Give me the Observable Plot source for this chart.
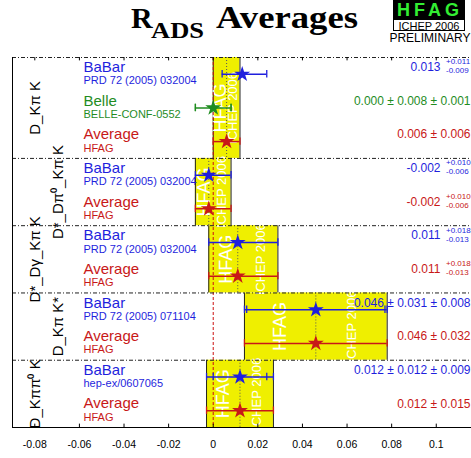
<!DOCTYPE html>
<html><head><meta charset="utf-8">
<script src="https://cdn.jsdelivr.net/npm/d3@7"></script>
<script src="https://cdn.jsdelivr.net/npm/@observablehq/plot@0.6"></script>
<style>
body{margin:0;background:#fff;overflow:hidden;width:471px;height:458px;}
#head{display:block;}
#chart svg{display:block;}
</style></head><body>
<svg id="head" width="471" height="50">
  <text x="131" y="27.5" font-family="Liberation Serif, Times New Roman, serif" font-weight="bold" font-size="30" fill="#000">R</text>
  <text x="151" y="37.5" font-family="Liberation Serif, Times New Roman, serif" font-weight="bold" font-size="24" textLength="53" lengthAdjust="spacingAndGlyphs" fill="#000">ADS</text>
  <text x="216" y="27.5" font-family="Liberation Serif, Times New Roman, serif" font-weight="bold" font-size="32" textLength="142" lengthAdjust="spacingAndGlyphs" fill="#000">Averages</text>
  <rect x="393" y="0" width="72" height="19" fill="#000"/>
  <text x="430" y="15.5" text-anchor="middle" font-family="Liberation Sans, Arial, sans-serif" font-weight="bold" font-size="18" letter-spacing="4" fill="#33ee33">HFAG</text>
  <rect x="393.5" y="19.5" width="71" height="11" fill="#fff" stroke="#000"/>
  <text x="429" y="29.5" text-anchor="middle" font-family="Liberation Sans, Arial, sans-serif" font-size="11" fill="#000">ICHEP 2006</text>
  <text x="430" y="42" text-anchor="middle" font-family="Liberation Sans, Arial, sans-serif" font-size="12" fill="#000">PRELIMINARY</text>
</svg>
<div id="chart"></div>
<script>
// ---- data ----
const categories = ["D_Kπ K", "D*_Dπ⁰_Kπ K", "D*_Dγ_Kπ K", "D_Kπ K*", "D_Kππ⁰ K"];
const rowSection = [0, 0, 0, 1, 1, 2, 2, 3, 3, 4, 4];
const experiments = ["BaBar", "Belle", "Average", "BaBar", "Average", "BaBar", "Average", "BaBar", "Average", "BaBar", "Average"];
const references = ["PRD 72 (2005) 032004", "BELLE-CONF-0552", "HFAG", "PRD 72 (2005) 032004", "HFAG", "PRD 72 (2005) 032004", "HFAG", "PRD 72 (2005) 071104", "HFAG", "hep-ex/0607065", "HFAG"];
const values = [0.013, 0.000, 0.006, -0.002, -0.002, 0.011, 0.011, 0.046, 0.046, 0.012, 0.012];
const errPlus = [0.011, 0.008, 0.006, 0.010, 0.010, 0.018, 0.018, 0.032, 0.032, 0.015, 0.015];
const errMinus = [0.009, 0.008, 0.006, 0.006, 0.006, 0.013, 0.013, 0.032, 0.032, 0.015, 0.015];
const statErr = [null, 0.008, null, null, null, null, null, 0.031, null, 0.012, null];
const valueLabels = ["0.013", "0.000 ± 0.008 ± 0.001", "0.006 ± 0.006", "-0.002", "-0.002", "0.011", "0.011", "0.046 ± 0.031 ± 0.008", "0.046 ± 0.032", "0.012 ± 0.012 ± 0.009", "0.012 ± 0.015"];
const supLabels = ["+0.011", null, null, "+0.010", "+0.010", "+0.018", "+0.018", null, null, null, null];
const subLabels = ["-0.009", null, null, "-0.006", "-0.006", "-0.013", "-0.013", null, null, null, null];
const xTicks = [-0.08, -0.06, -0.04, -0.02, 0, 0.02, 0.04, 0.06, 0.08, 0.1];
const xDomain = [-0.09, 0.1158];
const expNames = ["BaBar", "Belle", "Average"];
const expColors = ["#1f1fdd", "#1f8c1f", "#c81818"];

// ---- derived tables ----
const rows = values.map((v, i) => ({
  i, pos: i + 0.5, sec: rowSection[i], exp: experiments[i], ref: references[i],
  v, lo: v - errMinus[i], hi: v + errPlus[i], stat: statErr[i],
  label: valueLabels[i], sup: supLabels[i], sub: subLabels[i]
}));
const sections = categories.map((c, s) => {
  const rs = rows.filter(r => r.sec === s);
  const avg = rs.find(r => r.exp === "Average");
  const start = rs[0].i, end = rs[rs.length - 1].i + 1;
  return {s, cat: c, start, end, mid: (start + end) / 2, avg: avg.v, x1: avg.lo, x2: avg.hi};
});
const boundaries = sections.map(d => d.start);
const caps = rows.flatMap(r => [{x: r.lo, y: r.pos, exp: r.exp}, {x: r.hi, y: r.pos, exp: r.exp}]);
const statTicks = rows.filter(r => r.stat != null).flatMap(r => [{x: r.v - r.stat, y: r.pos, exp: r.exp}, {x: r.v + r.stat, y: r.pos, exp: r.exp}]);
const boxEdges = sections.flatMap(d => [{x: d.x1, y1: d.start, y2: d.end}, {x: d.x2, y1: d.start, y2: d.end}]);
const nRows = rows.length;
const capH = 0.11;

const fontFam = "Liberation Sans, Arial, Helvetica, sans-serif";

const plot = Plot.plot({
  width: 471, height: 408,
  marginLeft: 12, marginRight: 0, marginTop: 7, marginBottom: 31,
  style: {fontFamily: fontFam, background: "white"},
  x: {domain: xDomain},
  y: {domain: [nRows, 0], axis: null},
  color: {domain: expNames, range: expColors},
  marks: [
    Plot.rect(sections, {x1: "x1", x2: "x2", y1: "start", y2: "end", fill: "#efef00"}),
    Plot.ruleX(boxEdges, {x: "x", y1: "y1", y2: "y2", stroke: "#222", strokeWidth: 1}),
    Plot.ruleX(sections, {x: "avg", y1: "start", y2: "end", stroke: "#555", strokeDasharray: "1,2", strokeWidth: 1}),
    Plot.text(sections, {x: d => d.x1 + 0.25 * (d.x2 - d.x1), y: "mid", text: () => "HFAG", rotate: -90, fill: "white", fontSize: 18, textAnchor: "middle", lineAnchor: "middle"}),
    Plot.text(sections, {x: d => d.x1 + 0.75 * (d.x2 - d.x1), y: "mid", text: () => "ICHEP 2006", rotate: -90, fill: "white", fontSize: 13, textAnchor: "middle", lineAnchor: "middle"}),
    Plot.ruleX([0], {y1: 0, y2: nRows, stroke: "#cc1111", strokeDasharray: "3,2", strokeWidth: 1}),
    Plot.ruleY(boundaries, {stroke: "#222", strokeDasharray: "4,2,1,2", strokeWidth: 1}),
    Plot.ruleY([nRows], {stroke: "#000", strokeWidth: 1}),
    Plot.ruleX([xDomain[0]], {y1: 0, y2: nRows, stroke: "#000", strokeWidth: 1}),
    Plot.ruleX(xTicks, {x: d => d, y1: nRows, y2: nRows - 0.1, stroke: "#000"}),
    Plot.ruleX(xTicks, {x: d => d, y1: 0, y2: 0.1, stroke: "#000"}),
    Plot.axisX({ticks: xTicks, tickFormat: d => String(+d.toFixed(2)), tickSize: 0, tickPadding: 13, fontSize: 10.5, label: null}),
    // error bars
    Plot.ruleY(rows, {y: "pos", x1: "lo", x2: "hi", stroke: "exp", strokeWidth: 1.5}),
    Plot.ruleX(caps, {x: "x", y1: d => d.y - capH, y2: d => d.y + capH, stroke: "exp", strokeWidth: 1.3}),
    Plot.ruleX(statTicks, {x: "x", y1: d => d.y - capH, y2: d => d.y + capH, stroke: "exp", strokeWidth: 1.3}),
    Plot.dot(rows, {x: "v", y: "pos", symbol: "star", fill: "exp", r: 5, stroke: null}),
    // left labels
    Plot.text(rows, {y: "pos", text: "exp", frameAnchor: "left", dx: 71, dy: -7, textAnchor: "start", fontSize: 15, fill: "exp"}),
    Plot.text(rows, {y: "pos", text: "ref", frameAnchor: "left", dx: 71, dy: 6.5, textAnchor: "start", fontSize: 11, fill: "exp"}),
    Plot.text(sections.filter(d => d.s % 2 === 0), {y: "mid", text: "cat", frameAnchor: "left", dx: 23, rotate: -90, fontSize: 15, fill: "#000", textAnchor: "middle", lineAnchor: "middle"}),
    Plot.text(sections.filter(d => d.s % 2 === 1), {y: "mid", text: "cat", frameAnchor: "left", dx: 46, rotate: -90, fontSize: 15, fill: "#000", textAnchor: "middle", lineAnchor: "middle"}),
    // right value labels
    Plot.text(rows.filter(r => r.sup == null), {y: "pos", text: "label", frameAnchor: "right", dx: -1, dy: -7, textAnchor: "end", fontSize: 12, fill: "exp"}),
    Plot.text(rows.filter(r => r.sup != null), {y: "pos", text: "label", frameAnchor: "right", dx: -31, dy: -7, textAnchor: "end", fontSize: 12, fill: "exp"}),
    Plot.text(rows.filter(r => r.sup != null), {y: "pos", text: "sup", frameAnchor: "right", dx: -25.5, dy: -12.5, textAnchor: "start", fontSize: 8, fill: "exp"}),
    Plot.text(rows.filter(r => r.sub != null), {y: "pos", text: "sub", frameAnchor: "right", dx: -25.5, dy: -3.5, textAnchor: "start", fontSize: 8, fill: "exp"})
  ]
});
document.getElementById("chart").appendChild(plot);
</script>
</body></html>
